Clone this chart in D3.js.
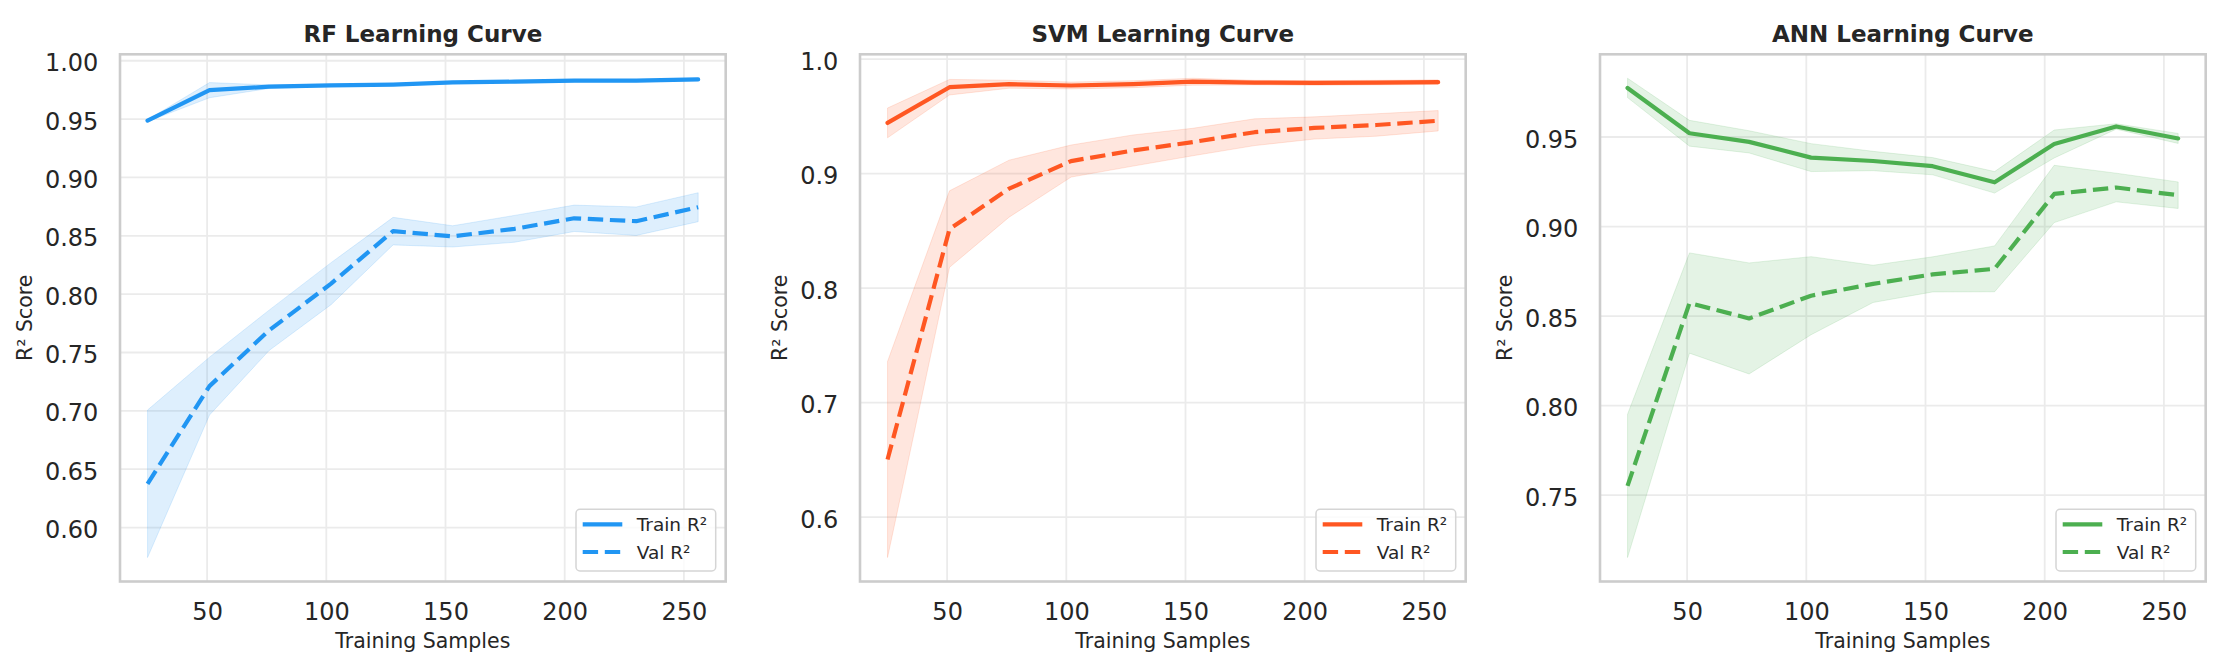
<!DOCTYPE html>
<html><head><meta charset="utf-8">
<script src="https://cdn.jsdelivr.net/npm/d3@7"></script>
<style>
body{margin:0;background:#fff}
svg{display:block}
text{font-family:"DejaVu Sans",sans-serif;fill:#262626}
</style>
</head><body>
<svg id="chart" width="2220" height="668"></svg>
<script>
// ---------- data ----------
const trainSizes = [25, 51, 76, 102, 128, 153, 179, 204, 230, 256];
const xTicks = [50, 100, 150, 200, 250];

const rfTrainMean = [0.9487, 0.9748, 0.9778, 0.9789, 0.9796, 0.9814, 0.9821, 0.9829, 0.9829, 0.9840];
const rfTrainStd  = [0.0008, 0.0065, 0.0015, 0.0010, 0.0010, 0.0010, 0.0010, 0.0010, 0.0010, 0.0010];
const rfValMean   = [0.6375, 0.7212, 0.7690, 0.8090, 0.8540, 0.8495, 0.8560, 0.8650, 0.8625, 0.8745];
const rfValStd    = [0.0632, 0.0248, 0.0173, 0.0180, 0.0118, 0.0091, 0.0115, 0.0113, 0.0122, 0.0124];
const rfYTicks    = [0.60, 0.65, 0.70, 0.75, 0.80, 0.85, 0.90, 0.95, 1.00];

const svmTrainMean = [0.9443, 0.9755, 0.9781, 0.9770, 0.9781, 0.9803, 0.9795, 0.9792, 0.9795, 0.9799];
const svmTrainStd  = [0.0130, 0.0068, 0.0035, 0.0030, 0.0030, 0.0030, 0.0020, 0.0020, 0.0020, 0.0020];
const svmValMean   = [0.6504, 0.8516, 0.8869, 0.9110, 0.9202, 0.9276, 0.9362, 0.9399, 0.9425, 0.9462];
const svmValStd    = [0.0856, 0.0334, 0.0249, 0.0140, 0.0136, 0.0120, 0.0117, 0.0097, 0.0098, 0.0089];
const svmYTicks    = [0.6, 0.7, 0.8, 0.9, 1.0];

const annTrainMean = [0.9774, 0.9521, 0.9473, 0.9385, 0.9366, 0.9337, 0.9247, 0.9461, 0.9559, 0.9492];
const annTrainStd  = [0.0054, 0.0072, 0.0062, 0.0078, 0.0054, 0.0048, 0.0060, 0.0078, 0.0015, 0.0028];
const annValMean   = [0.7552, 0.8573, 0.8487, 0.8614, 0.8680, 0.8733, 0.8764, 0.9182, 0.9218, 0.9175];
const annValStd    = [0.0400, 0.0280, 0.0310, 0.0218, 0.0104, 0.0098, 0.0128, 0.0160, 0.0080, 0.0074];
const annYTicks    = [0.75, 0.80, 0.85, 0.90, 0.95];

const titles = ["RF Learning Curve", "SVM Learning Curve", "ANN Learning Curve"];
const colors = ["#2196F3", "#FF5722", "#4CAF50"];
const legendLabels = ["Train R\u00B2", "Val R\u00B2"];
const xLabel = "Training Samples";
const yLabel = "R\u00B2 Score";

// ---------- build ----------
const panels = [
  {title: titles[0], color: colors[0], tm: rfTrainMean, ts: rfTrainStd, vm: rfValMean, vs: rfValStd, yTicks: rfYTicks, fmt: d3.format(".2f")},
  {title: titles[1], color: colors[1], tm: svmTrainMean, ts: svmTrainStd, vm: svmValMean, vs: svmValStd, yTicks: svmYTicks, fmt: d3.format(".1f")},
  {title: titles[2], color: colors[2], tm: annTrainMean, ts: annTrainStd, vm: annValMean, vs: annValStd, yTicks: annYTicks, fmt: d3.format(".2f")}
];

const svg = d3.select("#chart");
const W = 605.7, H = 527.2, top0 = 54.3, left0 = 120, step = 740;

function padded(lo, hi) { const p = (hi - lo) * 0.05; return [lo - p, hi + p]; }

panels.forEach((P, i) => {
  const g = svg.append("g").attr("transform", `translate(${left0 + i * step},${top0})`);
  const rows = trainSizes.map((s, k) => ({
    s, tm: P.tm[k], tlo: P.tm[k] - P.ts[k], thi: P.tm[k] + P.ts[k],
    vm: P.vm[k], vlo: P.vm[k] - P.vs[k], vhi: P.vm[k] + P.vs[k]
  }));
  const x = d3.scaleLinear().domain(padded(d3.min(trainSizes), d3.max(trainSizes))).range([0, W]);
  const yLo = d3.min(rows, r => Math.min(r.tlo, r.vlo));
  const yHi = d3.max(rows, r => Math.max(r.thi, r.vhi));
  const y = d3.scaleLinear().domain(padded(yLo, yHi)).range([H, 0]);

  // grid
  g.append("g").selectAll("line").data(P.yTicks).join("line")
    .attr("x1", 0).attr("x2", W).attr("y1", d => y(d)).attr("y2", d => y(d))
    .attr("stroke", "#ebebeb").attr("stroke-width", 1.8);
  g.append("g").selectAll("line").data(xTicks).join("line")
    .attr("y1", 0).attr("y2", H).attr("x1", d => x(d)).attr("x2", d => x(d))
    .attr("stroke", "#ebebeb").attr("stroke-width", 1.8);

  // bands
  const area = (lo, hi) => d3.area().x(d => x(d.s)).y0(d => y(d[lo])).y1(d => y(d[hi]));
  [["tlo", "thi"], ["vlo", "vhi"]].forEach(([lo, hi]) => {
    g.append("path").datum(rows).attr("d", area(lo, hi))
      .attr("fill", P.color).attr("fill-opacity", 0.15)
      .attr("stroke", P.color).attr("stroke-opacity", 0.15).attr("stroke-width", 1);
  });

  // lines
  const line = key => d3.line().x(d => x(d.s)).y(d => y(d[key]));
  g.append("path").datum(rows).attr("d", line("tm"))
    .attr("fill", "none").attr("stroke", P.color).attr("stroke-width", 4.2)
    .attr("stroke-linejoin", "round").attr("stroke-linecap", "round");
  g.append("path").datum(rows).attr("d", line("vm"))
    .attr("fill", "none").attr("stroke", P.color).attr("stroke-width", 4.2)
    .attr("stroke-dasharray", "15.4,6.7").attr("stroke-linejoin", "round");

  // axes (labels only)
  const xa = g.append("g").attr("transform", `translate(0,${H})`)
    .call(d3.axisBottom(x).tickValues(xTicks).tickSize(0).tickPadding(21.5).tickFormat(d3.format("d")));
  const ya = g.append("g")
    .call(d3.axisLeft(y).tickValues(P.yTicks).tickSize(0).tickPadding(21.7).tickFormat(P.fmt));
  [xa, ya].forEach(a => {
    a.select(".domain").remove();
    a.selectAll("text").attr("font-size", 24).attr("font-family", "DejaVu Sans, sans-serif").attr("fill", "#262626");
  });
  ya.selectAll("text").attr("dy", "10px");

  // frame
  g.append("rect").attr("x", 0).attr("y", 0).attr("width", W).attr("height", H)
    .attr("fill", "none").attr("stroke", "#cccccc").attr("stroke-width", 2.6);

  // title & labels
  g.append("text").attr("x", W / 2).attr("y", -12.6).attr("text-anchor", "middle")
    .attr("font-size", 23).attr("font-weight", "bold").text(P.title);
  g.append("text").attr("x", W / 2).attr("y", 593.5).attr("text-anchor", "middle")
    .attr("font-size", 20.5).text(xLabel);
  const bb = ya.node().getBBox();
  const yl = bb.x - 13.3;
  g.append("text").attr("transform", `translate(${yl},${H / 2}) rotate(-90)`)
    .attr("text-anchor", "middle").attr("font-size", 20.5).text(yLabel);

  // legend
  const lx = W - 149.7, ly = H - 72.2;
  const lg = g.append("g").attr("transform", `translate(${lx},${ly})`);
  lg.append("rect").attr("width", 139.7).attr("height", 61.7).attr("rx", 4)
    .attr("fill", "#ffffff").attr("fill-opacity", 0.8).attr("stroke", "#d5d5d5").attr("stroke-width", 1.5);
  legendLabels.forEach((lab, k) => {
    const yy = k === 0 ? 15 : 42.7;
    lg.append("line").attr("x1", 6.7).attr("x2", 46.3).attr("y1", yy).attr("y2", yy)
      .attr("stroke", P.color).attr("stroke-width", 4.2)
      .attr("stroke-dasharray", k === 0 ? null : "15.4,6.7");
    lg.append("text").attr("x", 60.7).attr("y", yy + 6.7).attr("font-size", 18.5).text(lab);
  });
});
</script>
</body></html>
